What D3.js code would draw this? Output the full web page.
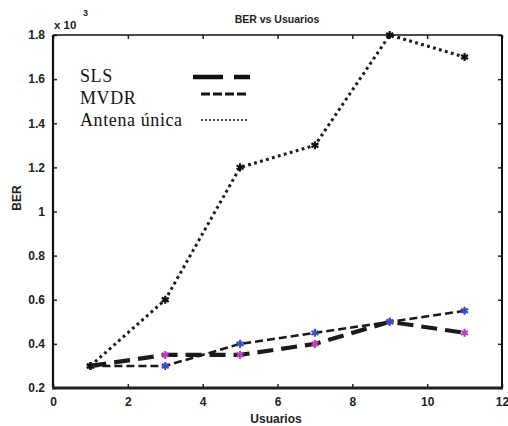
<!DOCTYPE html>
<html><head><meta charset="utf-8">
<script src="https://cdn.jsdelivr.net/npm/d3@7"></script>
<style>body{margin:0;background:#fff}svg{display:block}</style>
</head><body>
<svg id="c" width="508" height="426"></svg>
<script>
const usuarios = [1, 3, 5, 7, 9, 11];
const sls = [0.30, 0.35, 0.35, 0.40, 0.50, 0.45];
const mvdr = [0.30, 0.30, 0.40, 0.45, 0.50, 0.55];
const antena = [0.30, 0.60, 1.20, 1.30, 1.80, 1.70];
const xTicks = [0, 2, 4, 6, 8, 10, 12];
const yTicks = [0.2, 0.4, 0.6, 0.8, 1, 1.2, 1.4, 1.6, 1.8];
const seriesNames = ["SLS", "MVDR", "Antena única"];

const svg = d3.select("#c");
const L = 53, R = 502, T = 35, B = 388;
const x = d3.scaleLinear().domain([0, 12]).range([L, R]);
const y = d3.scaleLinear().domain([0.2, 1.8]).range([B, T]);
const sans = "Liberation Sans, Arial, sans-serif";
const serif = "Liberation Serif, Times New Roman, serif";

// axes with inward ticks
const gx = svg.append("g").attr("transform", `translate(0,${B})`)
  .call(d3.axisBottom(x).tickValues(xTicks).tickSize(-4).tickPadding(9).tickFormat(d3.format("d")));
const gxt = svg.append("g").attr("transform", `translate(0,${T})`)
  .call(d3.axisTop(x).tickValues(xTicks).tickSize(-4).tickFormat(""));
const gy = svg.append("g").attr("transform", `translate(${L},0)`)
  .call(d3.axisLeft(y).tickValues(yTicks).tickSize(-4).tickPadding(8).tickFormat(d => d === 1 ? "1" : d3.format(".1f")(d)));
const gyr = svg.append("g").attr("transform", `translate(${R},0)`)
  .call(d3.axisRight(y).tickValues(yTicks).tickSize(-4).tickFormat(""));
[gx, gxt, gy, gyr].forEach(g => {
  g.select(".domain").remove();
  g.selectAll(".tick line").attr("stroke", "#222").attr("stroke-width", 1.5);
  g.selectAll("text").attr("font-family", sans).attr("font-weight", "bold").attr("font-size", 12).attr("fill", "#222");
});
// frame
svg.append("line").attr("x1", L).attr("x2", R).attr("y1", T).attr("y2", T).attr("stroke", "#111").attr("stroke-width", 1.6);
svg.append("line").attr("x1", L).attr("x2", L).attr("y1", T).attr("y2", B).attr("stroke", "#111").attr("stroke-width", 2.2);
svg.append("line").attr("x1", R).attr("x2", R).attr("y1", T).attr("y2", B).attr("stroke", "#111").attr("stroke-width", 2);
svg.append("line").attr("x1", L - 1).attr("x2", R + 1).attr("y1", B).attr("y2", B).attr("stroke", "#222").attr("stroke-width", 3);

// titles
svg.append("text").attr("x", 277).attr("y", 23).attr("text-anchor", "middle")
  .attr("font-family", sans).attr("font-weight", "bold").attr("font-size", 10.5).attr("fill", "#222").text("BER vs Usuarios");
svg.append("text").attr("x", 276).attr("y", 423).attr("text-anchor", "middle")
  .attr("font-family", sans).attr("font-weight", "bold").attr("font-size", 12).attr("fill", "#222").text("Usuarios");
svg.append("text").attr("transform", "translate(21,198) rotate(-90)").attr("text-anchor", "middle")
  .attr("font-family", sans).attr("font-weight", "bold").attr("font-size", 12).attr("fill", "#222").text("BER");
svg.append("text").attr("x", 54).attr("y", 29)
  .attr("font-family", sans).attr("font-weight", "bold").attr("font-size", 11.5).attr("fill", "#222").text("x 10");
svg.append("text").attr("x", 83).attr("y", 16)
  .attr("font-family", sans).attr("font-weight", "bold").attr("font-size", 9).attr("fill", "#222").text("3");

// series
const series = [
  {name: seriesNames[0], vals: sls, dash: "16,8", w: 4.2, color: "#c040b8"},
  {name: seriesNames[1], vals: mvdr, dash: "8,4", w: 2.6, color: "#3a50c0"},
  {name: seriesNames[2], vals: antena, dash: "2.8,3.4", w: 3, color: "#111"}
];
series.forEach(s => {
  const line = d3.line().x((d, i) => x(usuarios[i])).y(d => y(d));
  svg.append("path").datum(s.vals).attr("d", line).attr("fill", "none")
    .attr("stroke", "#1a1a1a").attr("stroke-width", s.w).attr("stroke-dasharray", s.dash);
});
// markers (asterisks)
const star = d3.symbol().type(d3.symbolAsterisk).size(45);
series.forEach(s => {
  svg.append("g").selectAll("path").data(s.vals).join("path")
    .attr("transform", (d, i) => `translate(${x(usuarios[i])},${y(d)})`)
    .attr("d", star).attr("stroke", s.color).attr("stroke-width", 2.2).attr("fill", "none");
});

// legend
const leg = [
  {label: seriesNames[0], y: 77, dash: "30,11", w: 4.5, x1: 193, x2: 250},
  {label: seriesNames[1], y: 94, dash: "9,3", w: 3, x1: 201, x2: 248},
  {label: seriesNames[2], y: 120, dash: "2,2", w: 1.6, x1: 201, x2: 248}
];
const ty = [82, 104, 126];
leg.forEach((l, i) => {
  svg.append("text").attr("x", 80).attr("y", ty[i]).attr("font-family", serif).attr("font-size", 18)
    .attr("letter-spacing", 0.6).attr("fill", "#111").text(l.label);
  svg.append("line").attr("x1", l.x1).attr("x2", l.x2).attr("y1", l.y).attr("y2", l.y)
    .attr("stroke", "#111").attr("stroke-width", l.w).attr("stroke-dasharray", l.dash);
});
</script>
</body></html>
